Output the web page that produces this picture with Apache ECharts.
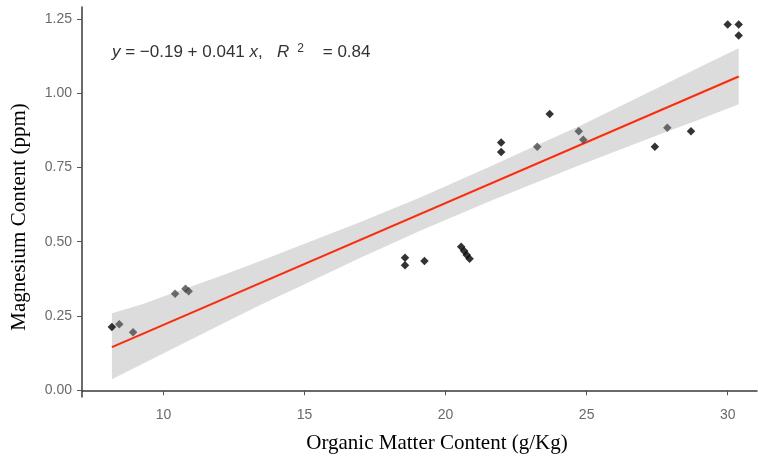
<!DOCTYPE html>
<html>
<head>
<meta charset="utf-8">
<script src="https://cdn.jsdelivr.net/npm/echarts@6/dist/echarts.min.js"></script>
<style>
html, body { margin: 0; padding: 0; background: #fff; }
#chart { width: 758px; height: 458px; }
</style>
</head>
<body>
<div id="chart"></div>
<script>
// organic matter (g/Kg) vs magnesium (ppm)
var blackX = [8.17, 18.56, 18.56, 19.25, 20.55, 20.66, 20.75, 20.85, 21.97, 21.97, 23.69, 27.42, 28.70, 30.0, 30.39, 30.39];
var blackY = [0.213, 0.446, 0.421, 0.435, 0.483, 0.469, 0.455, 0.443, 0.834, 0.802, 0.930, 0.820, 0.872, 1.231, 1.231, 1.194];
var greyX = [8.43, 8.92, 10.41, 10.78, 10.89, 23.25, 24.72, 24.88, 27.86];
var greyY = [0.222, 0.195, 0.325, 0.342, 0.333, 0.820, 0.872, 0.843, 0.884];

// fitted line ends and confidence band
var fitX = [8.17, 30.39];
var fitY = [0.145, 1.056];
var bandX = [8.17, 9.3, 10.5, 12, 13.43, 15, 17, 19.1, 21.5, 23, 24.77, 27.6, 29, 30.39];
var bandLo = [0.037, 0.091, 0.148, 0.22, 0.287, 0.357, 0.447, 0.537, 0.634, 0.691, 0.758, 0.862, 0.911, 0.963];
var bandHi = [0.259, 0.291, 0.333, 0.384, 0.435, 0.493, 0.567, 0.649, 0.750, 0.815, 0.890, 1.022, 1.087, 1.151];

var xTicks = [10, 15, 20, 25, 30];
var yTicks = [0, 0.25, 0.5, 0.75, 1, 1.25];

function pairs(xs, ys) {
  return xs.map(function (x, i) { return [x, ys[i]]; });
}

var chart = echarts.init(document.getElementById('chart'));
var tickLbl = { color: '#6a6a6a', fontSize: 14, fontFamily: 'Liberation Sans, Arial' };
var eqFont = 'Liberation Sans, Arial';

chart.setOption({
  animation: false,
  grid: { left: 82, right: 1, top: 7, bottom: 61 },
  xAxis: {
    type: 'value', min: 7.11, max: 31.04,
    splitLine: { show: false },
    axisLine: { lineStyle: { color: '#3a3a3a', width: 1.5 } },
    axisTick: { customValues: xTicks, length: 5, lineStyle: { color: '#555' } },
    axisLabel: Object.assign({ customValues: xTicks, margin: 11 }, tickLbl)
  },
  yAxis: {
    type: 'value', min: -0.0226, max: 1.29,
    splitLine: { show: false },
    axisLine: { show: true, lineStyle: { color: '#3a3a3a', width: 1.5 } },
    axisTick: { show: true, customValues: yTicks, length: 5, lineStyle: { color: '#555' } },
    axisLabel: Object.assign({
      customValues: yTicks, margin: 10,
      formatter: function (v) { return v.toFixed(2); }
    }, tickLbl)
  },
  series: [
    {
      type: 'custom', silent: true, z: 1,
      data: [[bandX[0], bandLo[0]]],
      renderItem: function (params, api) {
        var pts = [];
        for (var i = 0; i < bandX.length; i++) pts.push(api.coord([bandX[i], bandHi[i]]));
        for (var j = bandX.length - 1; j >= 0; j--) pts.push(api.coord([bandX[j], bandLo[j]]));
        return { type: 'polygon', shape: { points: pts }, style: { fill: '#dcdcdc' } };
      }
    },
    {
      type: 'line', symbol: 'none', silent: true, z: 3,
      data: pairs(fitX, fitY),
      lineStyle: { color: '#ff2a0a', width: 2 }
    },
    {
      type: 'scatter', symbol: 'diamond', symbolSize: 8.5, z: 4,
      data: pairs(greyX, greyY),
      itemStyle: { color: '#4a4a4a' }
    },
    {
      type: 'scatter', symbol: 'diamond', symbolSize: 8.5, z: 5,
      data: pairs(blackX, blackY),
      itemStyle: { color: '#000' }
    }
  ],
  graphic: [
    {
      type: 'text', left: 112, top: 43, z: 10,
      style: {
        text: '{i|y} = −0.19 + 0.041 {i|x},   {i|R}{s|2}    = 0.84',
        fill: '#333', fontSize: 17, fontFamily: eqFont,
        rich: {
          i: { fontStyle: 'italic', fontSize: 17, fill: '#333', fontFamily: eqFont },
          s: { fontSize: 12, fill: '#333', verticalAlign: 'top', padding: [0, 0, 7, 8], fontFamily: eqFont }
        }
      }
    },
    {
      type: 'text', x: 437, y: 443, z: 10,
      style: {
        text: 'Organic Matter Content (g/Kg)', fill: '#000',
        fontSize: 21, fontFamily: 'Liberation Serif, Times New Roman, serif',
        align: 'center', verticalAlign: 'middle'
      }
    },
    {
      type: 'text', x: 19, y: 217, rotation: Math.PI / 2, z: 10,
      style: {
        text: 'Magnesium Content (ppm)', fill: '#000',
        fontSize: 21, fontFamily: 'Liberation Serif, Times New Roman, serif',
        align: 'center', verticalAlign: 'middle'
      }
    }
  ]
});
</script>
</body>
</html>
